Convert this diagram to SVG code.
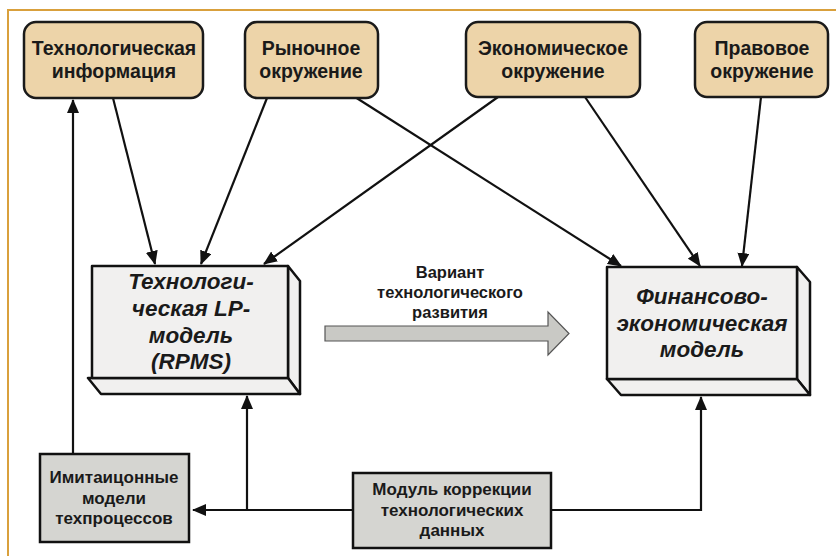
<svg xmlns="http://www.w3.org/2000/svg" width="836" height="556" viewBox="0 0 836 556">
<defs>
<style>
.frame{fill:none;stroke:#d9a03c;stroke-width:2}
.top{fill:#edd4a9;stroke:#1a1a1a;stroke-width:2.5}
.face{fill:#f1f0ef;stroke:#111;stroke-width:2.5;stroke-linejoin:round}
.gbox{fill:#d5d5d1;stroke:#111;stroke-width:2.5}
.t{font-family:"Liberation Sans",Arial,sans-serif;font-weight:bold;fill:#1a1a1a;text-anchor:middle}
.tb{font-size:19.5px}
.ti{font-size:22.5px;font-style:italic}
.ts{font-size:17px}
.tv{font-size:16.5px}
.ln{fill:none;stroke:#111;stroke-width:2.2}
</style>
<marker id="ah" viewBox="0 0 14 12" refX="13" refY="6" markerWidth="14" markerHeight="12" markerUnits="userSpaceOnUse" orient="auto">
<path d="M0,0 L14,6 L0,12 Z" fill="#111"/>
</marker>
</defs>
<rect width="836" height="556" fill="#fff"/>
<path class="frame" d="M836,10 H8 V556"/>

<g id="connectors">
<line class="ln" x1="113" y1="98" x2="155" y2="264" marker-end="url(#ah)"/>
<line class="ln" x1="267" y1="98" x2="201" y2="264" marker-end="url(#ah)"/>
<line class="ln" x1="498" y1="97" x2="264" y2="264" marker-end="url(#ah)"/>
<line class="ln" x1="355" y1="97" x2="621" y2="266" marker-end="url(#ah)"/>
<line class="ln" x1="585" y1="97" x2="700" y2="266" marker-end="url(#ah)"/>
<line class="ln" x1="761" y1="97" x2="742" y2="266" marker-end="url(#ah)"/>
<line class="ln" x1="73" y1="454" x2="73" y2="100" marker-end="url(#ah)"/>
<line class="ln" x1="353" y1="510" x2="193" y2="510" marker-end="url(#ah)"/>
<line class="ln" x1="247" y1="510" x2="247" y2="396" marker-end="url(#ah)"/>
<polyline class="ln" points="551,510 701,510 701,397" marker-end="url(#ah)"/>
<path d="M325,326 H548 V312 L569,333.5 L548,355 V341 H325 Z" fill="#c9c9c5" stroke="#555" stroke-width="1.2"/>
<text class="t tv" x="450" y="278">Вариант</text>
<text class="t tv" x="450" y="298">технологического</text>
<text class="t tv" x="450" y="318">развития</text>
</g>

<g id="tech-info">
<rect class="top" x="24" y="22" width="179" height="76" rx="12"/>
<text class="t tb" x="114" y="55">Технологическая</text>
<text class="t tb" x="114" y="78">информация</text>
</g>
<g id="market">
<rect class="top" x="245" y="22" width="133" height="76" rx="12"/>
<text class="t tb" x="311" y="55">Рыночное</text>
<text class="t tb" x="311" y="78">окружение</text>
</g>
<g id="econ">
<rect class="top" x="466" y="22" width="174" height="75" rx="12"/>
<text class="t tb" x="553" y="55">Экономическое</text>
<text class="t tb" x="553" y="78">окружение</text>
</g>
<g id="legal">
<rect class="top" x="695" y="22" width="133" height="75" rx="12"/>
<text class="t tb" x="762" y="55">Правовое</text>
<text class="t tb" x="762" y="78">окружение</text>
</g>

<g id="lp-model">
<polygon class="face" points="288,266 300,281 300,394 288,378"/>
<polygon class="face" points="88,378 288,378 300,394 101,394"/>
<rect class="face" x="92" y="266" width="196" height="112"/>
<text class="t ti" x="191" y="289">Технологи-</text>
<text class="t ti" x="191" y="316">ческая LP-</text>
<text class="t ti" x="191" y="343">модель</text>
<text class="t ti" x="191" y="369">(RPMS)</text>
</g>

<g id="fin-model">
<polygon class="face" points="797,267 810,282 810,395 797,379"/>
<polygon class="face" points="607,379 797,379 810,395 621,395"/>
<rect class="face" x="607" y="267" width="190" height="112"/>
<text class="t ti" x="702" y="304">Финансово-</text>
<text class="t ti" x="702" y="331">экономическая</text>
<text class="t ti" x="702" y="357">модель</text>
</g>

<g id="imitation">
<rect class="gbox" x="40" y="454" width="149" height="88"/>
<text class="t ts" x="114" y="483">Имитаицонные</text>
<text class="t ts" x="114" y="504">модели</text>
<text class="t ts" x="114" y="524">техпроцессов</text>
</g>
<g id="correction">
<rect class="gbox" x="353" y="473" width="198" height="75"/>
<text class="t ts" x="452" y="495">Модуль коррекции</text>
<text class="t ts" x="452" y="516">технологических</text>
<text class="t ts" x="452" y="536">данных</text>
</g>
</svg>
